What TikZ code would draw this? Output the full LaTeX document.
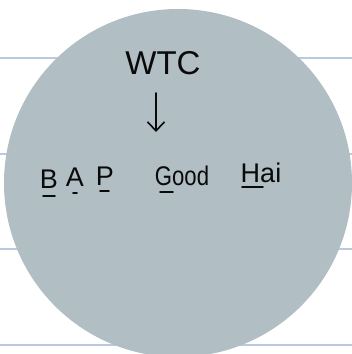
\documentclass[tikz,border=0pt]{standalone}
\usepackage{fontspec}
\setmainfont{Liberation Sans}
\usetikzlibrary{arrows.meta}
\definecolor{ruleblue}{HTML}{B9C9E0}
\definecolor{disc}{HTML}{B1BEC4}
\definecolor{ink}{HTML}{0A0A0A}
\tikzset{
  rule/.style={draw=ruleblue, line width=1.6pt},
  word/.style={inner sep=0pt, anchor=base, text=ink},
  stroke/.style={draw=ink, line width=1.6pt, line cap=round},
}
\begin{document}
\begin{tikzpicture}[x=1pt, y=-1pt]
  \useasboundingbox (0,0) rectangle (352,354);
  % ruled paper lines
  \foreach \yy in {58,154,249,345} \draw[rule] (0,\yy) -- (352,\yy);
  % grey disc
  \fill[disc] (178,183) circle[radius=174];
  % heading and arrow
  \node[word, font=\fontsize{33}{33}\selectfont] (wtc) at (163,74) {WTC};
  \coordinate (tip) at (156,132);
  \draw[stroke, -{Straight Barb[length=9pt,width=17pt,line width=1.6pt]}] (156,93) -- (tip);
  % words on the row
  \begin{scope}[font=\fontsize{27}{27}\selectfont]
    \node[word] (b) at (49,188) {B};
    \node[word] (a) at (75,186) {A};
    \node[word] (p) at (105,185) {P};
    \node[word, xscale=0.82] (good) at (182,185) {Good};
    \node[word] (hai) at (261,182) {Hai};
  \end{scope}
  % underlined initials
  \draw[stroke] (43,196) -- (55,196);
  \draw[stroke] (73,193) -- (77,193);
  \draw[stroke] (100,191) -- (109,191);
  \draw[stroke] (160,192) -- (173,192);
  \draw[stroke] (242,187) -- (263,187);
\end{tikzpicture}
\end{document}
